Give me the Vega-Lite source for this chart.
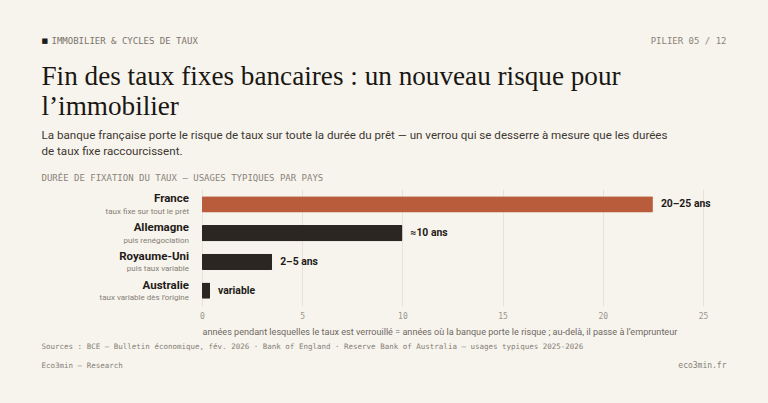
{
  "$schema": "https://vega.github.io/schema/vega-lite/v6.json",
  "description": "Durée de fixation du taux, usages typiques par pays (BCE, Bank of England, RBA)",
  "background": "#f7f4ee",
  "padding": {"left": 41, "top": 36, "right": 42, "bottom": 34},
  "width": 501,
  "height": 117,
  "datasets": {
    "pays": [
      {"pays": "France", "note": "taux fixe sur tout le prêt", "annees": 22.5, "label": "20–25 ans"},
      {"pays": "Allemagne", "note": "puis renégociation", "annees": 10, "label": "≈10 ans"},
      {"pays": "Royaume-Uni", "note": "puis taux variable", "annees": 3.5, "label": "2–5 ans"},
      {"pays": "Australie", "note": "taux variable dès l’origine", "annees": 0.4, "label": "variable"}
    ],
    "vide": []
  },
  "layer": [
    {
      "data": {"name": "pays"},
      "mark": {"type": "bar", "cornerRadius": 1},
      "encoding": {
        "y": {
          "field": "pays", "type": "nominal", "sort": null, "axis": null,
          "scale": {"paddingInner": 0.43, "paddingOuter": 0.25}
        },
        "x": {
          "field": "annees", "type": "quantitative",
          "scale": {"domain": [0, 25], "nice": false},
          "axis": {
            "orient": "bottom", "values": [0, 5, 10, 15, 20, 25],
            "grid": true, "gridColor": "#e8e3d9", "ticks": false, "domain": false,
            "labelFlush": false, "labelFont": "DejaVu Sans Mono", "labelFontSize": 8,
            "labelColor": "#9b948a", "labelPadding": 6,
            "title": "années pendant lesquelles le taux est verrouillé = années où la banque porte le risque ; au-delà, il passe à l’emprunteur",
            "titleFont": "Roboto", "titleFontSize": 9.1, "titleColor": "#6f685f",
            "titleX": 0, "titleY": 25, "titleAlign": "left", "titleBaseline": "middle"
          }
        },
        "color": {
          "field": "pays", "type": "nominal", "legend": null,
          "scale": {"domain": ["France", "Allemagne", "Royaume-Uni", "Australie"], "range": ["#b95c3c", "#2b2622", "#2b2622", "#2b2622"]}
        }
      }
    },
    {
      "data": {"name": "pays"},
      "mark": {"type": "text", "align": "left", "baseline": "middle", "dx": 8, "font": "Roboto", "fontSize": 10.4, "fontWeight": "bold", "color": "#1f1b17"},
      "encoding": {
        "y": {"field": "pays", "type": "nominal", "sort": null, "axis": null},
        "x": {"field": "annees", "type": "quantitative", "axis": null},
        "text": {"field": "label"}
      }
    },
    {
      "data": {"name": "pays"},
      "mark": {"type": "text", "align": "right", "baseline": "middle", "dx": -13, "dy": -5, "font": "Roboto", "fontSize": 11.5, "fontWeight": "bold", "color": "#1f1b17"},
      "encoding": {
        "y": {"field": "pays", "type": "nominal", "sort": null, "axis": null},
        "x": {"datum": 0, "type": "quantitative", "axis": null},
        "text": {"field": "pays"}
      }
    },
    {
      "data": {"name": "pays"},
      "mark": {"type": "text", "align": "right", "baseline": "middle", "dx": -13, "dy": 7.5, "font": "Roboto", "fontSize": 8, "color": "#857e74"},
      "encoding": {
        "y": {"field": "pays", "type": "nominal", "sort": null, "axis": null},
        "x": {"datum": 0, "type": "quantitative", "axis": null},
        "text": {"field": "note"}
      }
    },
    {
      "data": {"name": "vide"},
      "mark": "rule",
      "encoding": {
        "x": {"field": "v", "type": "quantitative", "axis": {
          "orient": "top", "title": "■", "titleFont": "DejaVu Sans", "titleFontSize": 7, "titleColor": "#1f1b17",
          "titleX": -161, "titleY": -149, "titleAlign": "left", "titleBaseline": "middle"}}
      }
    },
    {
      "data": {"name": "vide"},
      "mark": "rule",
      "encoding": {
        "x": {"field": "v", "type": "quantitative", "axis": {
          "orient": "top", "title": "IMMOBILIER & CYCLES DE TAUX", "titleFont": "DejaVu Sans Mono", "titleFontSize": 9, "titleColor": "#7a736a",
          "titleX": -151, "titleY": -149, "titleAlign": "left", "titleBaseline": "middle"}}
      }
    },
    {
      "data": {"name": "vide"},
      "mark": "rule",
      "encoding": {
        "x": {"field": "v", "type": "quantitative", "axis": {
          "orient": "top", "title": "PILIER 05 / 12", "titleFont": "DejaVu Sans Mono", "titleFontSize": 9, "titleColor": "#8a8379",
          "titleX": 524, "titleY": -149, "titleAlign": "right", "titleBaseline": "middle"}}
      }
    },
    {
      "data": {"name": "vide"},
      "mark": "rule",
      "encoding": {
        "x": {"field": "v", "type": "quantitative", "axis": {
          "orient": "top", "title": ["Fin des taux fixes bancaires : un nouveau risque pour", "l’immobilier"],
          "titleFont": "Liberation Serif", "titleFontSize": 27.2, "titleColor": "#1a1612", "titleLineHeight": 30,
          "titleX": -161, "titleY": -105, "titleAlign": "left", "titleBaseline": "alphabetic"}}
      }
    },
    {
      "data": {"name": "vide"},
      "mark": "rule",
      "encoding": {
        "x": {"field": "v", "type": "quantitative", "axis": {
          "orient": "top", "title": ["La banque française porte le risque de taux sur toute la durée du prêt — un verrou qui se desserre à mesure que les durées", "de taux fixe raccourcissent."],
          "titleFont": "Roboto", "titleFontSize": 11.6, "titleColor": "#3e3731", "titleLineHeight": 16,
          "titleX": -161, "titleY": -51, "titleAlign": "left", "titleBaseline": "alphabetic"}}
      }
    },
    {
      "data": {"name": "vide"},
      "mark": "rule",
      "encoding": {
        "x": {"field": "v", "type": "quantitative", "axis": {
          "orient": "top", "title": "DURÉE DE FIXATION DU TAUX — USAGES TYPIQUES PAR PAYS", "titleFont": "DejaVu Sans Mono", "titleFontSize": 9, "titleColor": "#8a8379",
          "titleX": -161, "titleY": -12, "titleAlign": "left", "titleBaseline": "middle"}}
      }
    },
    {
      "data": {"name": "vide"},
      "mark": "rule",
      "encoding": {
        "x": {"field": "v", "type": "quantitative", "axis": {
          "orient": "bottom", "labels": false, "grid": false,
          "title": ["Sources : BCE — Bulletin économique, fév. 2026 · Bank of England · Reserve Bank of Australia — usages typiques 2025-2026", "Eco3min — Research"],
          "titleFont": "DejaVu Sans Mono", "titleFontSize": 7.5, "titleColor": "#857e74", "titleLineHeight": 19,
          "titleX": -161, "titleY": 42, "titleAlign": "left", "titleBaseline": "alphabetic"}}
      }
    },
    {
      "data": {"name": "vide"},
      "mark": "rule",
      "encoding": {
        "x": {"field": "v", "type": "quantitative", "axis": {
          "orient": "bottom", "labels": false, "grid": false,
          "title": "eco3min.fr", "titleFont": "DejaVu Sans Mono", "titleFontSize": 8, "titleColor": "#857e74",
          "titleX": 524, "titleY": 61, "titleAlign": "right", "titleBaseline": "alphabetic"}}
      }
    }
  ],
  "resolve": {"axis": {"x": "independent"}},
  "config": {
    "view": {"stroke": null},
    "axis": {"titleFontWeight": "normal", "titleLimit": 2000, "labelLimit": 300},
    "axisTop": {"labels": false, "ticks": false, "domain": false, "grid": false},
    "axisBottom": {"domain": false, "ticks": false}
  }
}
